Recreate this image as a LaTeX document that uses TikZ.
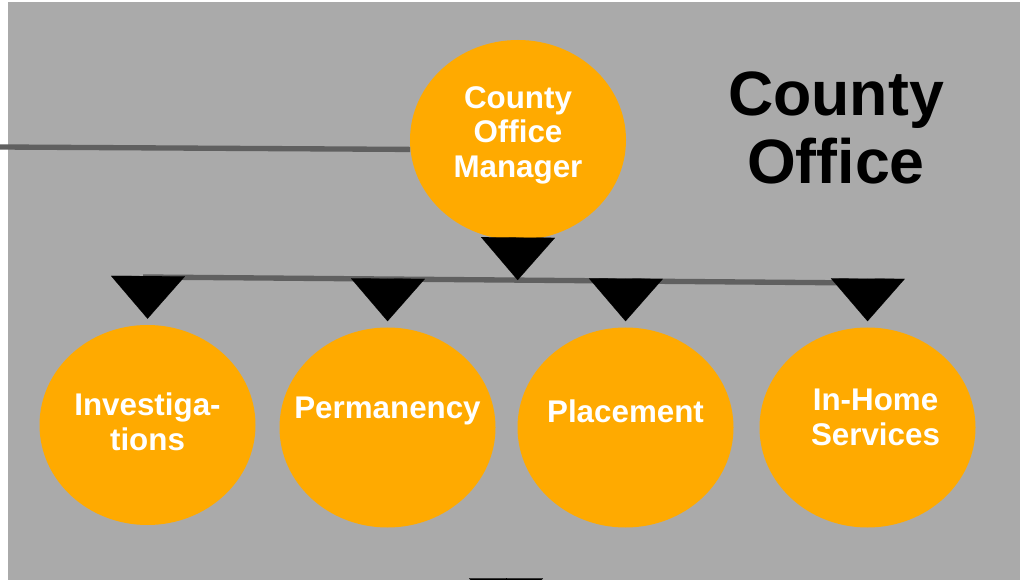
\documentclass[tikz,border=0pt]{standalone}
\usepackage{fontspec}
\newfontfamily\chartfont{Liberation Sans}
\usetikzlibrary{shapes.geometric,arrows.meta,calc}
\definecolor{panelgray}{RGB}{170,170,170}
\definecolor{unitorange}{RGB}{255,170,0}
\definecolor{wiregray}{RGB}{96,96,96}
\tikzset{
  unit/.style={ellipse, fill=unitorange, inner ysep=0pt, inner xsep=-25pt, minimum width=162pt, minimum height=150pt,
    text=white, align=center, font=\chartfont\bfseries\fontsize{23.5pt}{26pt}\selectfont},
  heading/.style={align=center, font=\chartfont\bfseries\fontsize{47pt}{51pt}\selectfont},
  wire/.style={wiregray, line width=4pt},
  drop/.style={-{Triangle[width=55.5pt,length=32pt]}, line width=0.1pt, black},
}
\newcommand\unitlines[2]{\raisebox{#1}[0pt][0pt]{\begin{tabular}{@{}c@{}}#2\end{tabular}}}
\begin{document}
\begin{tikzpicture}[x=0.75pt,y=-0.75pt]
\useasboundingbox (0,0) rectangle (1020,580);
\fill[white] (0,0) rectangle (1020,580);
\fill[panelgray] (8,2) rectangle (1020,580);

\node[unit] (mgr) at (518,140) {\unitlines{-3.1pt}{County\\Office\\Manager}};
\node[unit] (inv) at (147.5,425) {\unitlines{-7.1pt}{Investiga-\\tions}};
\node[unit] (perm) at (387.5,427.5) {\raisebox{6.4pt}[0pt][0pt]{Permanency}};
\node[unit] (place) at (625.5,427.5) {\raisebox{3.4pt}[0pt][0pt]{Placement}};
\node[unit] (home) at (867.5,427.5) {\hspace*{12pt}\unitlines{-1.5pt}{In-Home\\Services}};
\node[heading] (office) at (836,128) {County\\Office};

\coordinate (feed) at (0,147);
\coordinate (busL) at (143,277);
\coordinate (busR) at (865,283);
\coordinate (nextTop) at (506,578);
\coordinate (nextTip) at (506,621);

\draw[wire] (feed) -- (mgr.185);
\draw[wire] (busL) -- (busR);

\draw[drop] (mgr.south) -- ($(busL)!(mgr.south)!(busR)$);
\draw[drop, shorten >=4.5pt] ($(busL)!(inv.north)!(busR)$) -- (inv.north);
\draw[drop, shorten >=4.5pt] ($(busL)!(perm.north)!(busR)$) -- (perm.north);
\draw[drop, shorten >=4.5pt] ($(busL)!(place.north)!(busR)$) -- (place.north);
\draw[drop, shorten >=4.5pt] ($(busL)!(home.north)!(busR)$) -- (home.north);
\draw[drop] (nextTop) -- (nextTip);
\end{tikzpicture}
\end{document}
